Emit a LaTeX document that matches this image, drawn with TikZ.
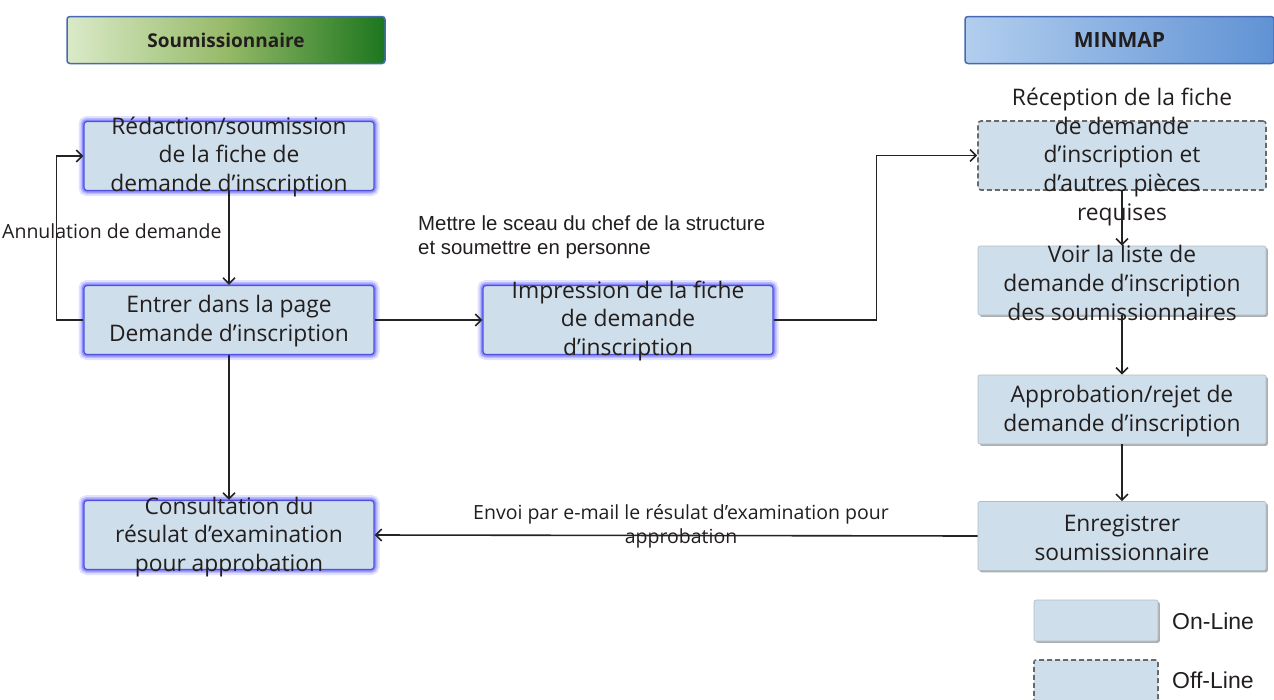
\documentclass[tikz,border=0pt]{standalone}
\usepackage{fontspec}
\setmainfont{Open Sans}
\newfontfamily\arialf{Liberation Sans}
\usetikzlibrary{arrows.meta,shadows}
\definecolor{boxfill}{RGB}{206,222,234}
\definecolor{glow}{RGB}{110,110,255}
\definecolor{glowd}{RGB}{80,80,220}
\definecolor{linec}{RGB}{35,35,35}
\definecolor{dashc}{RGB}{105,105,105}
\definecolor{txt}{RGB}{35,30,30}
\definecolor{gA}{RGB}{218,234,200}
\definecolor{gB}{RGB}{150,186,104}
\definecolor{gC}{RGB}{28,118,30}
\definecolor{bA}{RGB}{178,206,238}
\definecolor{bB}{RGB}{96,146,212}
\definecolor{hdrb}{RGB}{70,105,180}
\begin{document}
\begin{tikzpicture}[x=1pt,y=-1pt,
  header/.style={draw=hdrb, line width=1.5pt, rounded corners=3pt, minimum width=318pt, minimum height=47pt, inner sep=0pt, font=\fontsize{19}{21}\selectfont\bfseries, text=txt},
  glowbox/.style={fill=boxfill, draw=glowd, line width=1.2pt, rounded corners=3pt,
     minimum width=290pt, minimum height=69pt, inner sep=0pt,
     preaction={draw=glow, line width=11pt, opacity=0.2},
     preaction={draw=glow, line width=7pt, opacity=0.35},
     preaction={draw=glow, line width=4pt, opacity=0.6}},
  onbox/.style={fill=boxfill, draw=boxfill!85!black, line width=0.6pt, rounded corners=2pt,
     minimum width=288pt, minimum height=69pt, inner sep=0pt,
     drop shadow={shadow xshift=1.8pt, shadow yshift=-1.8pt, fill=black!45, opacity=0.7}},
  offbox/.style={fill=boxfill, draw=dashc, line width=1.6pt, dash pattern=on 5pt off 3pt, rounded corners=3pt,
     minimum width=288pt, minimum height=69pt, inner sep=0pt},
  boxtxt/.style={align=center, font=\fontsize{22.8}{28.6}\selectfont, text=txt, inner sep=0pt},
  lbl/.style={font=\fontsize{19.5}{24}\selectfont, text=txt, inner sep=0pt},
  arlbl/.style={font=\arialf\fontsize{20.4}{24}\selectfont, text=txt, inner sep=0pt},
  leglbl/.style={font=\arialf\fontsize{23}{24}\selectfont, text=txt, inner sep=0pt, anchor=west},
  conn/.style={draw=linec, line width=1.6pt, -{Straight Barb[length=6pt,width=12pt]}},
]
\useasboundingbox (0,0) rectangle (1274,699);

% headers
\node[header, left color=gA, right color=gC, middle color=gB] (h1) at (226,40) {Soumissionnaire};
\node[header, left color=bA, right color=bB, minimum width=309pt, font=\fontsize{21}{23}\selectfont\bfseries] (h2) at (1119.5,40) {MINMAP};

% boxes
\node[glowbox] (A) at (229,156) {};
\node[glowbox] (B) at (229,320) {};
\node[glowbox] (C) at (628,320) {};
\node[glowbox] (D) at (229,535) {};
\node[offbox] (E) at (1122,155.5) {};
\node[onbox] (F) at (1122,280.5) {};
\node[onbox] (G) at (1122,409.5) {};
\node[onbox] (H) at (1122,536) {};

% connectors
\draw[conn] (A.south) -- (B.north);
\draw[conn] (B.west) -- ++(-27,0) |- (A.west);
\draw[conn] (B.east) -- (C.west);
\draw[conn] (C.east) -- ++(103,0) |- (E.west);
\draw[conn] (B.south) -- (D.north);
\draw[conn] (E.south) -- (F.north);
\draw[conn] (F.south) -- (G.north);
\draw[conn] (G.south) -- (H.north);
\draw[conn] (H.west) -- (D.east);

% box texts
\node[boxtxt] (tA) at (229,157) {R\'edaction/soumission\\de la fiche de\\demande d’inscription};
\node[boxtxt] (tB) at (229,321) {Entrer dans la page\\Demande d’inscription};
\node[boxtxt] (tC) at (628,321) {Impression de la fiche\\de demande\\d’inscription};
\node[boxtxt] (tD) at (229,537) {Consultation du\\r\'esulat d’examination\\pour approbation};
\node[boxtxt] (tE) at (1122,157) {R\'eception de la fiche\\de demande\\d’inscription et\\d’autres pi\`eces\\requises};
\node[boxtxt] (tF) at (1122,283) {Voir la liste de\\demande d’inscription\\des soumissionnaires};
\node[boxtxt] (tG) at (1122,411) {Approbation/rejet de\\demande d’inscription};
\node[boxtxt] (tH) at (1122,538) {Enregistrer\\soumissionnaire};

% edge labels
\node[lbl, anchor=west] (lAnn) at (2,231) {Annulation de demande};
\node[arlbl, align=left, anchor=west] (lMet) at (418,237) {Mettre le sceau du chef de la structure\\et soumettre en personne};
\node[lbl, align=center] (lEnv) at (681,526) {Envoi par e-mail le r\'esulat d’examination pour\\approbation};

% legend
\node[onbox, minimum width=124pt, minimum height=41pt] (L1) at (1096,620.5) {};
\node[offbox, minimum width=124pt, minimum height=42pt, rounded corners=2pt] (L2) at (1096,681) {};
\node[leglbl] (t1) at (1172,621) {On-Line};
\node[leglbl] (t2) at (1172,680) {Off-Line};
\end{tikzpicture}
\end{document}
